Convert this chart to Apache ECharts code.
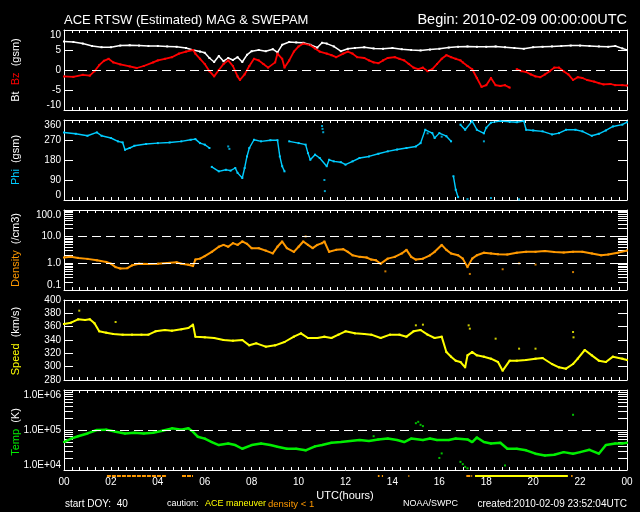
<!DOCTYPE html>
<html><head><meta charset="utf-8">
<script src="https://cdn.jsdelivr.net/npm/echarts@6/dist/echarts.min.js"></script>
<style>html,body{margin:0;padding:0;background:#000;}#c{width:640px;height:512px;}</style>
</head><body><div id="c"></div>
<script>
// ---------- DATA (hours UTC, value) ----------
const bt = [[0,7.1],[0.4,7.0],[0.8,6.6],[1.2,6.0],[1.6,5.7],[2.0,5.7],[2.4,6.1],[2.8,6.2],[3.2,6.1],[3.6,6.0],[4.0,6.0],[4.4,5.9],[4.8,5.8],[5.2,5.5],[5.5,5.0],[5.8,4.6],[6.0,4.3],[6.2,3.0],[6.4,2.0],[6.6,3.5],[6.8,2.2],[7.0,3.0],[7.2,2.5],[7.4,3.2],[7.6,2.0],[7.8,3.8],[8.0,4.7],[8.3,5.0],[8.6,4.7],[8.9,5.2],[9.1,4.4],[9.3,6.3],[9.6,7.0],[9.9,6.9],[10.2,6.8],[10.5,6.3],[10.8,5.6],[11.0,6.8],[11.2,6.6],[11.5,5.9],[11.8,4.7],[12.1,5.3],[12.4,5.5],[12.8,5.7],[13.2,5.4],[13.6,5.3],[14.0,5.5],[14.4,5.2],[14.8,5.0],[15.2,4.9],[15.6,5.1],[16.0,5.3],[16.4,5.6],[16.8,5.8],[17.2,5.9],[17.6,5.8],[18.0,5.8],[18.4,5.9],[18.8,5.7],[19.2,5.5],[19.6,5.3],[20.0,5.7],[20.4,5.8],[20.8,5.9],[21.2,6.0],[21.6,6.1],[22.0,6.1],[22.4,6.0],[22.8,5.9],[23.2,5.8],[23.5,6.0],[23.8,5.4],[24,5.0]];
const bz = [[0,-1.6],[0.4,-1.7],[0.8,-1.2],[1.1,-1.4],[1.3,-0.3],[1.5,1.2],[1.7,2.3],[1.9,2.8],[2.1,1.9],[2.4,1.4],[2.8,0.9],[3.1,0.5],[3.4,1.0],[3.8,1.9],[4.0,2.4],[4.3,2.8],[4.6,3.2],[4.9,4.1],[5.2,4.6],[5.5,5.0],[5.6,4.1],[5.8,2.8],[6.0,1.5],[6.2,-0.3],[6.4,-1.6],[6.6,0],[6.8,1.5],[7.0,2.4],[7.2,1.0],[7.4,-1.6],[7.5,-2.5],[7.7,-1.1],[7.9,1.0],[8.1,2.8],[8.3,2.4],[8.5,1.5],[8.7,0.6],[9.0,1.9],[9.1,4.1],[9.3,2.8],[9.4,0.6],[9.6,2.4],[9.8,4.6],[10.0,5.9],[10.2,6.6],[10.5,6.2],[10.7,5.4],[10.9,4.6],[11.2,4.1],[11.4,3.7],[11.6,3.2],[11.9,4.1],[12.1,4.6],[12.3,4.1],[12.5,3.2],[12.8,3.0],[13.0,2.4],[13.2,1.9],[13.4,1.7],[13.6,2.4],[13.8,3.0],[14.1,3.2],[14.3,2.8],[14.5,2.4],[14.7,1.5],[14.9,0.6],[15.1,0.2],[15.3,0.6],[15.5,-0.3],[15.7,0.2],[15.9,1.5],[16.1,2.8],[16.3,3.7],[16.5,3.2],[16.7,2.8],[16.9,2.4],[17.0,1.9],[17.2,1.0],[17.4,0.2],[17.6,-2.0],[17.8,-4.2],[18.0,-3.8],[18.2,-2.0],[18.4,-3.8],[18.6,-4.0],[18.8,-3.8],[19.0,-4.4],[19.1,null],[19.3,0.2],[19.5,-0.3],[19.7,-0.5],[19.9,-1.1],[20.1,-1.6],[20.3,-1.8],[20.5,-1.1],[20.7,-0.3],[20.9,0.6],[21.1,0.6],[21.3,-0.3],[21.5,-1.1],[21.7,-2.5],[21.9,-1.8],[22.1,-2.0],[22.3,-2.5],[22.6,-2.9],[22.8,-3.3],[23.0,-3.6],[23.3,-3.5],[23.5,-3.8],[23.8,-3.8],[24,-3.9]];
const phi = [[0,304],[0.5,298],[1.0,289],[1.4,304],[1.6,289],[2.0,279],[2.3,264],[2.5,259],[2.6,226],[2.8,234],[3.0,244],[3.5,252],[4.0,256],[4.5,259],[5.0,264],[5.4,271],[5.6,274],[5.8,256],[6.0,249],[6.2,234],[6.25,null],[6.3,149],[6.6,129],[6.9,136],[7.1,132],[7.3,144],[7.4,122],[7.6,99],[7.7,144],[7.8,196],[7.9,234],[8.1,271],[8.4,264],[8.8,269],[9.1,269],[9.2,196],[9.3,152],[9.4,129],[9.45,null],[9.6,264],[10.0,256],[10.3,249],[10.4,211],[10.5,181],[10.7,204],[10.9,189],[11.2,152],[11.3,181],[11.5,174],[11.8,170],[12.0,159],[12.3,174],[12.6,189],[13.0,196],[13.4,208],[13.8,219],[14.2,227],[14.6,234],[15.0,241],[15.2,256],[15.4,316],[15.7,301],[15.8,279],[16.0,301],[16.3,287],[16.5,264],[16.55,null],[16.6,107],[16.7,46],[16.8,13],[16.85,null],[16.9,339],[17.1,316],[17.4,355],[17.6,316],[17.9,300],[18.0,325],[18.2,348],[18.6,355],[19.0,352],[19.3,350],[19.6,355],[19.7,316],[20.0,313],[20.4,309],[20.8,295],[21.1,301],[21.4,316],[21.8,316],[22.1,309],[22.5,289],[22.8,298],[23.1,313],[23.4,331],[23.8,339],[24,350]];
const phiDots = [[7.0,241],[7.05,230],[11.0,333],[11.02,320],[11.05,305],[11.1,90],[11.12,40],[17.9,264],[17.2,4],[18.2,9],[19.4,3],[15.5,300],[16.1,285]];
const density = [[0,1.65],[0.3,1.75],[0.6,1.6],[1.0,1.47],[1.4,1.3],[1.8,1.13],[2.0,0.97],[2.2,0.72],[2.4,0.64],[2.7,0.66],[2.9,0.84],[3.2,0.97],[3.6,0.94],[4.0,0.97],[4.4,1.03],[4.8,1.09],[5.0,0.97],[5.3,0.89],[5.5,0.79],[5.6,1.38],[5.8,1.5],[6.0,1.86],[6.3,2.7],[6.6,4.2],[6.8,4.9],[7.0,4.2],[7.2,5.7],[7.4,4.9],[7.6,6.6],[7.8,5.4],[8.0,3.7],[8.3,3.7],[8.6,3.0],[8.9,2.35],[9.1,4.2],[9.3,6.6],[9.5,3.7],[9.8,2.7],[10.0,4.2],[10.2,6.6],[10.4,4.9],[10.6,3.7],[10.8,4.9],[11.0,5.7],[11.1,6.6],[11.3,2.7],[11.6,3.2],[11.9,3.4],[12.1,2.7],[12.3,2.0],[12.6,1.75],[12.9,1.65],[13.1,1.38],[13.3,1.3],[13.5,0.97],[13.8,1.5],[14.1,1.75],[14.4,2.35],[14.6,3.2],[14.8,1.75],[15.0,1.38],[15.3,1.5],[15.6,2.0],[15.8,2.7],[16.1,4.9],[16.3,3.2],[16.5,2.35],[16.8,2.0],[17.0,1.5],[17.2,0.72],[17.4,1.5],[17.6,2.0],[17.9,2.5],[18.2,2.35],[18.5,2.2],[18.9,2.15],[19.3,2.5],[19.7,2.7],[20.1,2.7],[20.5,2.9],[20.9,2.65],[21.3,2.55],[21.7,2.7],[22.1,2.7],[22.5,2.35],[22.9,2.0],[23.2,2.15],[23.6,2.5],[24,3.0]];
const densityDots = [[13.7,0.5],[17.3,0.4],[18.7,0.6],[21.7,0.47],[19.4,1.0],[20.1,0.9],[10.3,10.2]];
const speed = [[0,364],[0.3,366],[0.6,371],[0.9,370],[1.1,371],[1.3,365],[1.5,353],[1.8,351],[2.1,349],[2.5,348],[2.9,348],[3.3,348],[3.6,348],[3.9,353],[4.3,355],[4.6,354],[5.0,356],[5.3,358],[5.5,363],[5.6,345],[6.0,344],[6.4,343],[6.8,340],[7.2,339],[7.6,340],[7.9,332],[8.2,335],[8.6,330],[9.0,332],[9.4,337],[9.8,345],[10.1,350],[10.4,343],[10.8,343],[11.1,345],[11.4,343],[11.7,348],[12.0,353],[12.4,350],[12.8,349],[13.1,348],[13.5,343],[13.9,348],[14.3,348],[14.6,345],[14.9,353],[15.2,355],[15.5,348],[15.8,343],[16.1,345],[16.3,322],[16.5,315],[16.7,309],[16.9,307],[17.1,299],[17.2,317],[17.4,322],[17.6,317],[17.9,315],[18.2,312],[18.5,307],[18.7,294],[19.0,309],[19.3,309],[19.7,310],[20.1,312],[20.4,313],[20.8,304],[21.1,299],[21.4,297],[21.7,304],[21.9,312],[22.2,325],[22.5,317],[22.8,309],[23.1,307],[23.4,315],[23.8,312],[24,310]];
const speedDots = [[0.65,384],[2.2,367],[17.25,362],[17.3,357],[21.7,352],[21.72,344],[18.4,342],[19.4,327],[20.1,327],[15.0,362],[15.3,363]];
const temp = [[0,50e3],[0.3,61e3],[0.6,70e3],[1.0,82e3],[1.4,100e3],[1.8,102e3],[2.2,90e3],[2.6,82e3],[3.0,85e3],[3.4,82e3],[3.8,85e3],[4.2,96e3],[4.6,110e3],[5.0,102e3],[5.3,110e3],[5.5,90e3],[5.7,68e3],[6.0,61e3],[6.3,50e3],[6.6,42e3],[7.0,46e3],[7.3,42e3],[7.6,34e3],[8.0,42e3],[8.4,46e3],[8.8,42e3],[9.1,38e3],[9.5,34e3],[9.9,34e3],[10.3,31e3],[10.7,39e3],[11.0,42e3],[11.4,48e3],[11.8,50e3],[12.2,53e3],[12.6,56e3],[13.0,53e3],[13.4,58e3],[13.8,61e3],[14.2,56e3],[14.5,50e3],[14.8,61e3],[15.3,56e3],[15.6,61e3],[15.9,56e3],[16.4,56e3],[16.7,61e3],[17.2,58e3],[17.4,50e3],[17.6,65e3],[17.9,50e3],[18.2,46e3],[18.6,48e3],[18.9,34e3],[19.3,34e3],[19.7,31e3],[20.1,25.6e3],[20.5,23e3],[20.9,24e3],[21.3,28e3],[21.7,25.6e3],[22.0,28e3],[22.4,32e3],[22.8,25.6e3],[23.1,42e3],[23.5,46e3],[23.8,46e3],[24,48e3]];
const tempDots = [[15.0,148e3],[15.1,160e3],[15.2,135e3],[15.3,125e3],[16.1,26e3],[16.0,20e3],[17.0,14e3],[17.1,12e3],[17.2,11e3],[16.9,16e3],[21.7,240e3],[13.2,70e3],[18.8,13e3]];
const densityLow = [[1.83,4.39],[5.03,5.5],[13.38,13.45],[13.55,13.6],[14.68,14.72],[17.15,17.4],[21.62,21.68]];
const maneuver = [[17.52,21.48]];

// ---------- CHART ----------
const FONT = 'Liberation Sans';
const tops = [30,120,210,300,390];
const grid = tops.map(t => ({left:64, right:13, top:t, height:80}));
grid.push({left:64, right:13, top:474, height:4});

const hourFmt = v => { const h = v % 24; return (h < 10 ? '0' : '') + h; };
const xAxis = [];
tops.forEach((t,i) => {
  ['bottom','top'].forEach(pos => {
    xAxis.push({type:'value', gridIndex:i, position:pos, min:0, max:24, interval:2,
      axisLine:{show:true, onZero:false, lineStyle:{color:'#fff', width:1}},
      axisTick:{show:true, inside:true, length:3, lineStyle:{color:'#fff'}},
      minorTick:{show:true, splitNumber:6, length:3, lineStyle:{color:'#fff'}},
      splitLine:{show:false}, minorSplitLine:{show:false},
      axisLabel:{show: pos==='bottom' && i===4, color:'#fff', fontFamily:FONT, fontSize:10, margin:7, formatter:hourFmt}
    });
  });
});
xAxis.push({type:'value', gridIndex:5, min:0, max:24, show:false});

const linLog = [
  {type:'value', min:-10, max:10, interval:5, fmt:v=>String(v), edge:true},
  {type:'value', min:0, max:360, interval:90, fmt:v=>String(v), edge:true},
  {type:'log', min:0.1, max:100, fmt:v=>v.toFixed(1), edge:true},
  {type:'value', min:280, max:400, interval:20, fmt:v=>String(v), edge:false},
  {type:'log', min:1e4, max:1e6, fmt:v=>'1.0E+' + String(Math.round(Math.log10(v))).padStart(2,'0'), edge:true}
];
const yAxis = [];
const mainY = [];
const tickStyle = {show:true, inside:true, length:9, lineStyle:{color:'#fff'}};
linLog.forEach((p,i) => {
  mainY.push(yAxis.length);
  const base = {gridIndex:i, splitLine:{show:false},
    axisLine:{show:true, onZero:false, lineStyle:{color:'#fff', width:1}}};
  const lab = {show:true, color:'#fff', fontFamily:FONT, fontSize:10, lineHeight:10, margin:3, formatter:p.fmt,
      showMinLabel:true, showMaxLabel:true, hideOverlap:false};
  if (p.edge) { lab.verticalAlignMinLabel = 'bottom'; lab.verticalAlignMaxLabel = 'top'; }
  yAxis.push(Object.assign({}, base, {type:p.type, min:p.min, max:p.max, interval:p.interval, position:'left',
    axisTick:tickStyle, axisLabel:lab}));
  if (p.type === 'value') {
    yAxis.push(Object.assign({}, base, {type:'value', min:p.min, max:p.max, interval:p.interval, position:'right',
      axisTick:tickStyle, axisLabel:{show:false}}));
  } else {
    const lo = Math.round(Math.log10(p.min)), hi = Math.round(Math.log10(p.max));
    const minor = [], all = [];
    for (let d = lo; d < hi; d++) for (let k = 1; k <= 9; k++) { const e = d + Math.log10(k); all.push(e); if (k > 1) minor.push(e); }
    all.push(hi);
    yAxis.push({gridIndex:i, type:'value', min:lo, max:hi, position:'left', splitLine:{show:false},
      axisLine:{show:false}, axisLabel:{show:false}, axisTick:Object.assign({}, tickStyle, {customValues:minor})});
    yAxis.push({gridIndex:i, type:'value', min:lo, max:hi, position:'right', splitLine:{show:false},
      axisLine:{show:true, onZero:false, lineStyle:{color:'#fff'}}, axisLabel:{show:false}, axisTick:Object.assign({}, tickStyle, {customValues:all})});
  }
});
const cautionY = yAxis.length;
yAxis.push({type:'value', gridIndex:5, min:0, max:1, show:false});

const dash = (vals) => ({silent:true, symbol:'none', label:{show:false}, animation:false,
  lineStyle:{color:'#fff', type:[9,5], width:1}, data: vals.map(v => ({yAxis:v}))});
const lineS = (i, data, color, w, ml) => ({type:'line', xAxisIndex:2*i, yAxisIndex:mainY[i], data:data,
  showSymbol:true, symbol:'rect', symbolSize:2, itemStyle:{color:color}, lineStyle:{color:color, width:w},
  connectNulls:false, animation:false, z:3, markLine: ml});
const dotS = (i, data, color) => ({type:'scatter', xAxisIndex:2*i, yAxisIndex:mainY[i], data:data,
  symbol:'rect', symbolSize:2, itemStyle:{color:color}, animation:false, z:3});
const segs = (arr) => { const out = []; arr.forEach(s => { out.push([s[0],0.5],[s[1],0.5],[s[1],null]); }); return out; };

const series = [
  lineS(0, bt, '#ffffff', 1.5, dash([0])),
  lineS(0, bz, '#ff0000', 1.8),
  lineS(1, phi, '#00ccff', 1.4),
  dotS(1, phiDots, '#00ccff'),
  lineS(2, density, '#ff9900', 2, dash([1,10])),
  dotS(2, densityDots, '#ff9900'),
  lineS(3, speed, '#ffff00', 2),
  dotS(3, speedDots, '#ffff00'),
  lineS(4, temp, '#00ee00', 2.5, dash([1e5])),
  dotS(4, tempDots, '#00ee00'),
  {type:'line', xAxisIndex:10, yAxisIndex:cautionY, data:segs(densityLow), showSymbol:false,
    lineStyle:{color:'#ff9900', width:2, type:[4,1]}, connectNulls:false, animation:false},
  {type:'line', xAxisIndex:10, yAxisIndex:cautionY, data:segs(maneuver), showSymbol:false,
    lineStyle:{color:'#ffff00', width:2}, connectNulls:false, animation:false}
];

const txt = (x, y, text, opts) => ({type:'text', x:x, y:y, silent:true,
  style:Object.assign({text:text, fill:'#fff', font:'10px "' + FONT + '"', verticalAlign:'middle', align:'left'}, opts||{})});
const ytitle = (y, text, rich) => ({type:'text', x:16, y:y, rotation:Math.PI/2, silent:true,
  style:{text:text, rich:rich, fill:'#fff', font:'11px "' + FONT + '"', align:'center', verticalAlign:'middle'}});
const rs = c => ({fill:c, fontSize:11, fontFamily:FONT});

const graphic = [
  txt(64, 20, 'ACE RTSW (Estimated) MAG & SWEPAM', {font:'13px "' + FONT + '"'}),
  txt(627, 20, 'Begin: 2010-02-09 00:00:00UTC', {font:'14.5px "' + FONT + '"', align:'right'}),
  ytitle(70, '{w|Bt}  {r|Bz}  {w|(gsm)}', {w:rs('#fff'), r:rs('#ff0000')}),
  ytitle(160, '{c|Phi}  {w|(gsm)}', {w:rs('#fff'), c:rs('#00ccff')}),
  ytitle(250, '{o|Density}  {w|(/cm3)}', {w:rs('#fff'), o:rs('#ff9900')}),
  ytitle(341, '{y|Speed}  {w|(km/s)}', {w:rs('#fff'), y:rs('#ffff00')}),
  ytitle(432, '{g|Temp}  {w|(K)}', {w:rs('#fff'), g:rs('#00ee00')}),
  txt(345, 496, 'UTC(hours)', {align:'center', font:'11px "' + FONT + '"'}),
  txt(65, 504, 'start DOY:  40'),
  txt(167, 504, 'caution:', {font:'9px "' + FONT + '"'}),
  txt(205, 504, 'ACE maneuver', {fill:'#ffff00', font:'9px "' + FONT + '"'}),
  txt(268, 504, 'density < 1', {fill:'#ff9900', font:'9.5px "' + FONT + '"'}),
  txt(403, 504, 'NOAA/SWPC', {font:'9px "' + FONT + '"'}),
  txt(627, 504, 'created:2010-02-09 23:52:04UTC', {align:'right'})
];

const chart = echarts.init(document.getElementById('c'), null, {renderer:'canvas'});
chart.setOption({backgroundColor:'#000', animation:false, grid:grid, xAxis:xAxis, yAxis:yAxis, series:series, graphic:graphic});
</script></body></html>
